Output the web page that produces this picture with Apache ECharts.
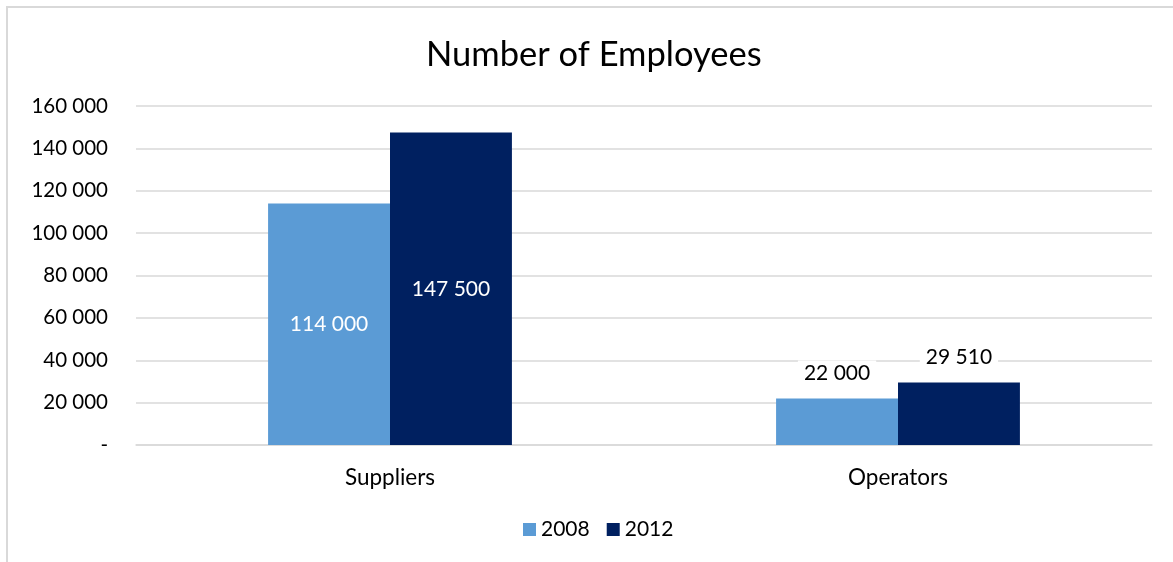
<!DOCTYPE html>
<html>
<head>
<meta charset="utf-8">
<script src="https://cdn.jsdelivr.net/npm/echarts@6/dist/echarts.min.js"></script>
<style>
  html, body { margin: 0; padding: 0; background: #fff; }
  #chart { width: 1173px; height: 562px; }
</style>
</head>
<body>
<div id="chart"></div>
<script>
const categories = ['Suppliers', 'Operators'];
const seriesNames = ['2008', '2012'];
const values2008 = [114000, 22000];
const values2012 = [147500, 29510];
const colors = ['#5B9BD5', '#002060'];

const FONT = 'Lato';

function fmt(v) {
  if (v === 0) return '-';
  return String(v).replace(/\B(?=(\d{3})+(?!\d))/g, ' ');
}

// Tall bars carry their value inside in white; short bars carry it above in black.
function buildData(vals) {
  return vals.map((v) => {
    const inside = v > 60000;
    return {
      value: v,
      label: inside
        ? { position: 'inside', color: '#ffffff' }
        : { position: 'top', color: '#000000', distance: 13, backgroundColor: '#ffffff', padding: [2, 6] }
    };
  });
}

const chart = echarts.init(document.getElementById('chart'), null, { renderer: 'canvas' });
chart.setOption({
  animation: false,
  backgroundColor: '#ffffff',
  textStyle: { fontFamily: FONT },
  graphic: [{
    type: 'rect',
    z: -10,
    shape: { x: 7, y: 7, width: 1200, height: 600 },
    style: { fill: 'none', stroke: '#d9d9d9', lineWidth: 2 }
  }],
  title: {
    text: 'Number of Employees',
    left: 421,
    top: 32,
    textStyle: { fontFamily: FONT, fontSize: 34.5, fontWeight: 'normal', color: '#000' }
  },
  legend: {
    bottom: 17,
    left: 518,
    itemWidth: 13,
    itemHeight: 13,
    itemGap: 17,
    icon: 'rect',
    textStyle: { fontFamily: FONT, fontSize: 21, color: '#000' },
    data: seriesNames
  },
  grid: { left: 136, right: 21, top: 106, bottom: 117, containLabel: false },
  xAxis: {
    type: 'category',
    data: categories,
    axisLine: { show: true, lineStyle: { color: '#d9d9d9', width: 1.5 } },
    axisTick: { show: false },
    axisLabel: { fontFamily: FONT, fontSize: 22.5, color: '#000', margin: 21 }
  },
  yAxis: {
    type: 'value',
    min: 0,
    max: 160000,
    interval: 20000,
    axisLine: { show: false },
    axisTick: { show: false },
    splitLine: { lineStyle: { color: '#d9d9d9', width: 1.5 } },
    axisLabel: { fontFamily: FONT, fontSize: 20.5, color: '#000', margin: 28, formatter: fmt }
  },
  series: [
    {
      name: seriesNames[0],
      type: 'bar',
      data: buildData(values2008),
      itemStyle: { color: colors[0] },
      barGap: '0%',
      barCategoryGap: '52%',
      label: { show: true, fontFamily: FONT, fontSize: 21, formatter: (p) => fmt(p.value) }
    },
    {
      name: seriesNames[1],
      type: 'bar',
      data: buildData(values2012),
      itemStyle: { color: colors[1] },
      barGap: '0%',
      barCategoryGap: '52%',
      label: { show: true, fontFamily: FONT, fontSize: 21, formatter: (p) => fmt(p.value) }
    }
  ]
});
</script>
</body>
</html>
